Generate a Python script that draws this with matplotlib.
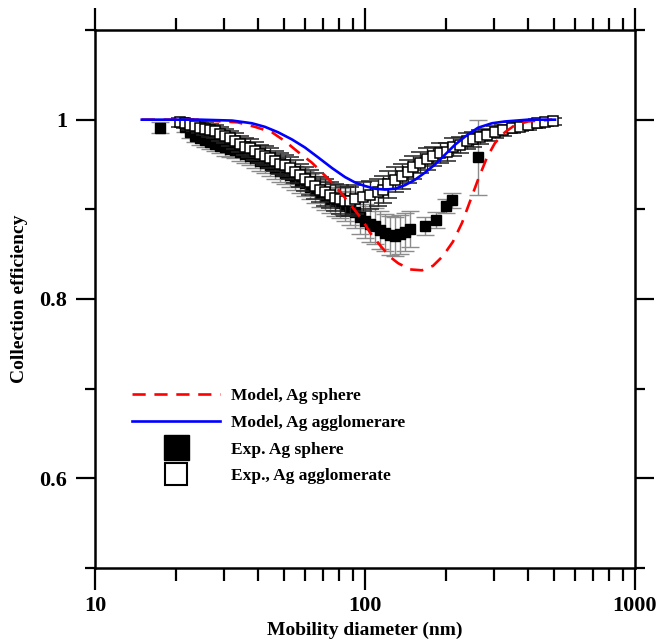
# Collection efficiency vs mobility diameter, Ag sphere / agglomerate
import numpy as np
import matplotlib
matplotlib.use("Agg")
import matplotlib.pyplot as plt
from matplotlib.lines import Line2D
from matplotlib.ticker import FixedLocator, FuncFormatter

plt.rcParams['font.family'] = ['Liberation Serif', 'DejaVu Serif']
plt.rcParams['font.weight'] = 'bold'

# Model curves
d_model_sphere = [14.9, 18.2, 24.5, 27.8, 33.8, 39.1, 45.2, 50.5, 56.5, 63.6, 69.3, 75.5,
                  82.2, 89.5, 97.5, 104.4, 113.6, 123.8, 132.5, 146.8, 162.6, 178.6,
                  194.5, 211.8, 228.8, 244.9, 262.1, 283.1, 303.0, 330.0, 359.4, 401.6, 492.7]
eff_model_sphere = [1.0, 1.0, 1.0, 0.9985, 0.997, 0.992, 0.986, 0.976, 0.964, 0.952, 0.941, 0.930,
                    0.917, 0.903, 0.889, 0.874, 0.860, 0.847, 0.840, 0.833, 0.832, 0.837,
                    0.848, 0.864, 0.885, 0.909, 0.933, 0.958, 0.974, 0.986, 0.994, 0.998, 1.0]

d_model_agglo = [14.9, 24.5, 32.2, 38.1, 42.6, 47.6, 53.6, 59.9, 67.0, 75.5, 84.3, 91.8,
                 100.0, 108.9, 118.6, 129.2, 140.7, 153.2, 166.8, 181.7, 197.9, 215.4,
                 234.6, 262.1, 295.4, 330.0, 401.6, 505.5]
eff_model_agglo = [1.0, 1.0, 0.999, 0.996, 0.992, 0.986, 0.978, 0.969, 0.958, 0.946, 0.936, 0.930,
                   0.926, 0.923, 0.922, 0.923, 0.927, 0.933, 0.941, 0.950, 0.961, 0.972,
                   0.981, 0.991, 0.996, 0.998, 1.0, 1.0]

# Experimental, Ag sphere
d_exp_sphere = [17.4, 21.5, 22.5, 23.5, 24.5, 25.6, 26.7, 27.8, 29.0, 30.3, 31.6, 33.0, 34.4,
                35.9, 37.5, 39.1, 40.8, 42.6, 44.5, 46.4, 48.4, 50.5, 52.7, 55.0, 57.4,
                59.9, 62.6, 65.3, 68.1, 71.1, 74.2, 77.4, 80.8, 84.3, 88.0, 91.8, 95.8,
                100.0, 104.4, 108.9, 113.6, 118.6, 123.8, 129.2, 134.8, 140.7, 146.8,
                166.8, 183.2, 199.5, 210.0, 262.1]
eff_exp_sphere = [0.991, 0.992, 0.986, 0.982, 0.979, 0.977, 0.975, 0.973, 0.971, 0.969, 0.967,
                  0.966, 0.964, 0.962, 0.960, 0.957, 0.954, 0.952, 0.949, 0.946, 0.943,
                  0.941, 0.938, 0.935, 0.932, 0.929, 0.925, 0.922, 0.918, 0.915, 0.912,
                  0.909, 0.907, 0.904, 0.901, 0.897, 0.892, 0.887, 0.884, 0.881, 0.877,
                  0.874, 0.871, 0.870, 0.872, 0.875, 0.878,
                  0.881, 0.888, 0.904, 0.910, 0.958]
err_exp_sphere = [0.006, 0.006, 0.006, 0.007, 0.007, 0.007, 0.008, 0.008, 0.008, 0.009, 0.009,
                  0.009, 0.010, 0.010, 0.010, 0.011, 0.011, 0.011, 0.012, 0.012, 0.012,
                  0.013, 0.013, 0.013, 0.014, 0.014, 0.014, 0.015, 0.015, 0.016, 0.016,
                  0.016, 0.017, 0.017, 0.018, 0.018, 0.019, 0.019, 0.020, 0.020, 0.021,
                  0.021, 0.022, 0.022, 0.022, 0.021, 0.020,
                  0.010, 0.009, 0.008, 0.008, 0.042]

# Experimental, Ag agglomerate
d_exp_agglo = [20.6, 21.5, 22.5, 23.5, 24.5, 25.6, 26.7, 27.8, 29.0, 30.3, 31.6, 33.0, 34.4,
               35.9, 37.5, 39.1, 40.8, 42.6, 44.5, 46.4, 48.4, 50.5, 52.7, 55.0, 57.4, 59.9,
               62.6, 65.3, 68.1, 71.1, 74.2, 77.4, 80.8, 84.3, 88.0, 91.8,
               98.3, 104.4, 111.7, 116.6, 121.7, 129.2, 137.1, 144.3, 150.6, 159.9, 169.7,
               178.6, 189.6, 201.3, 211.8, 224.9, 238.7, 251.2, 266.7, 283.1, 303.0, 324.5,
               350.4, 375.0, 401.6, 433.6, 464.2, 497.0]
eff_exp_agglo = [0.997, 0.996, 0.994, 0.993, 0.991, 0.990, 0.988, 0.987, 0.984, 0.982, 0.979,
                 0.976, 0.973, 0.970, 0.968, 0.965, 0.962, 0.960, 0.957, 0.954, 0.951, 0.949,
                 0.946, 0.942, 0.938, 0.934, 0.930, 0.926, 0.922, 0.919, 0.916, 0.913, 0.911,
                 0.909, 0.909, 0.911,
                 0.914, 0.916, 0.919, 0.922, 0.928, 0.933, 0.937, 0.942, 0.947, 0.952, 0.956,
                 0.959, 0.963, 0.964, 0.969, 0.972, 0.976, 0.978, 0.981, 0.983, 0.986, 0.988,
                 0.991, 0.992, 0.994, 0.996, 0.997, 0.998]
err_exp_agglo = [0.005, 0.005, 0.006, 0.006, 0.006, 0.007, 0.007, 0.007, 0.008, 0.008,
                 0.008, 0.009, 0.009, 0.009, 0.010, 0.010, 0.010, 0.011, 0.011, 0.011,
                 0.012, 0.012, 0.012, 0.013, 0.013, 0.013, 0.014, 0.014, 0.014, 0.015,
                 0.015, 0.015, 0.016, 0.016, 0.016, 0.016,
                 0.016, 0.016, 0.015, 0.015, 0.015, 0.014, 0.014, 0.013, 0.013, 0.012,
                 0.012, 0.011, 0.011, 0.010, 0.010, 0.009, 0.009, 0.008, 0.008, 0.007,
                 0.007, 0.006, 0.006, 0.005, 0.005, 0.005, 0.004, 0.004]

fig = plt.figure(figsize=(6.56, 6.41), dpi=100)
ax = fig.add_axes([95 / 656, 1 - 568 / 641, 540 / 656, 538 / 641])

# Data with error bars
ax.errorbar(d_exp_sphere, eff_exp_sphere, yerr=err_exp_sphere, fmt='s', ms=7,
            mfc='black', mec='black', ecolor='#8c8c8c', elinewidth=1,
            capsize=6.5, capthick=1, zorder=2)
ax.errorbar(d_exp_agglo, eff_exp_agglo, yerr=err_exp_agglo, fmt='s', ms=7,
            mfc='white', mec='black', mew=1.1, ecolor='#222222', elinewidth=1,
            capsize=6.5, capthick=1, zorder=3)

# Model curves
red_dash = (0, (5, 3.3))
ax.plot(d_model_sphere, eff_model_sphere, color='red', lw=1.9, ls=red_dash, zorder=4)
ax.plot(d_model_agglo, eff_model_agglo, color='#0000ff', lw=1.9, zorder=4)

ax.set_xscale('log')
ax.set_xlim(10, 1000)
ax.set_ylim(0.5, 1.1)

ax.xaxis.set_major_locator(FixedLocator([10, 100, 1000]))
ax.xaxis.set_minor_locator(FixedLocator([20, 30, 40, 50, 60, 70, 80, 90,
                                         200, 300, 400, 500, 600, 700, 800, 900]))
ax.xaxis.set_major_formatter(FuncFormatter(lambda v, p: '%g' % v))
ax.xaxis.set_minor_formatter(FuncFormatter(lambda v, p: ''))
ax.yaxis.set_major_locator(FixedLocator([0.6, 0.8, 1.0]))
ax.yaxis.set_minor_locator(FixedLocator([0.5, 0.7, 0.9, 1.1]))
ax.yaxis.set_major_formatter(FuncFormatter(lambda v, p: '%g' % v))

for s in ax.spines.values():
    s.set_linewidth(1.8)
ax.tick_params(which='both', direction='out', top=True, right=True, width=1.6)
ax.tick_params(which='major', length=16, labelsize=16, pad=4)
ax.tick_params(which='minor', length=9)
ax.tick_params(axis='y', which='major', length=14, pad=6)
ax.tick_params(axis='y', which='minor', length=7.5)

ax.set_xlabel('Mobility diameter (nm)', fontsize=14, fontweight='bold', labelpad=4)
ax.set_ylabel('Collection efficiency', fontsize=14, fontweight='bold', labelpad=8)

handles = [
    Line2D([], [], color='red', lw=1.9, ls=red_dash),
    Line2D([], [], color='#0000ff', lw=1.9),
    Line2D([], [], ls='none', marker='s', ms=18, mfc='black', mec='black'),
    Line2D([], [], ls='none', marker='s', ms=16, mfc='white', mec='black', mew=1.5),
]
labels = ['Model, Ag sphere', 'Model, Ag agglomerare', 'Exp. Ag sphere', 'Exp., Ag agglomerate']
ax.legend(handles, labels, loc='center left', bbox_to_anchor=(0.068, 0.245),
          frameon=False, fontsize=12.5, handlelength=5.1, handletextpad=0.6,
          labelspacing=0.6, borderpad=0, borderaxespad=0)

fig.savefig('out.png', dpi=100)
